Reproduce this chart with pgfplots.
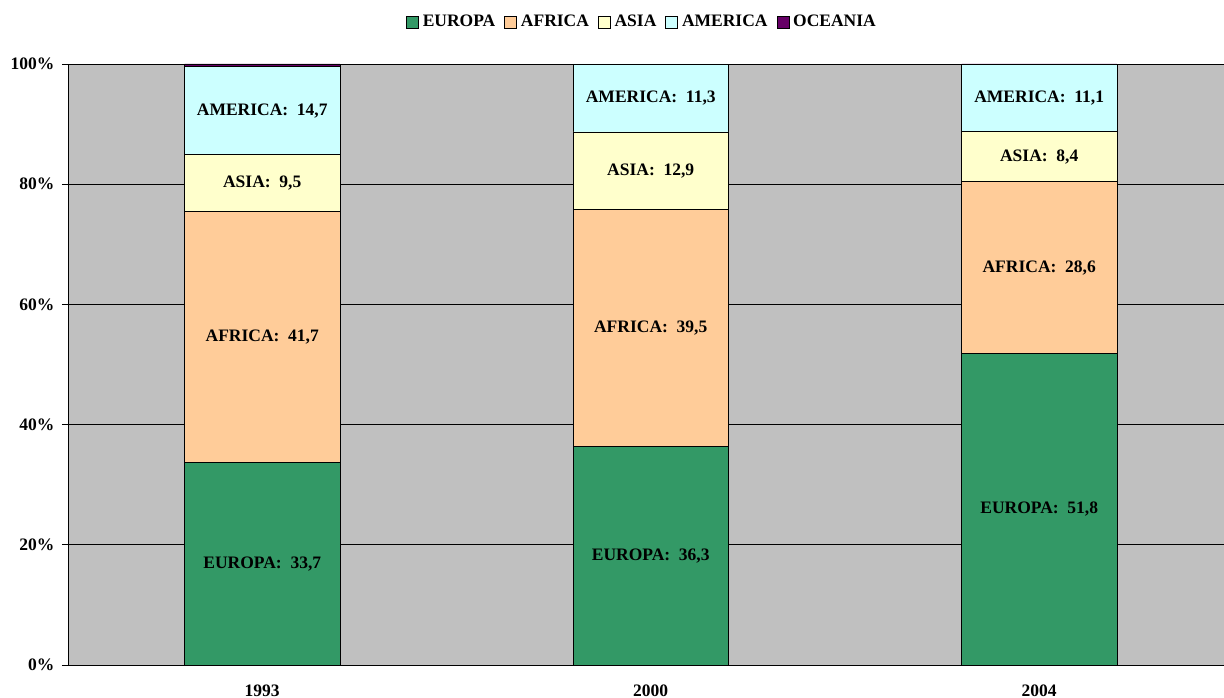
\documentclass[border=0pt]{standalone}
\usepackage{pgfplots}
\pgfplotsset{compat=1.18}
\usepackage{fontspec}
\setmainfont{Liberation Serif}
\definecolor{cEur}{HTML}{339966}
\definecolor{cAfr}{HTML}{FFCC99}
\definecolor{cAsi}{HTML}{FFFFCC}
\definecolor{cAme}{HTML}{CCFFFF}
\definecolor{cOce}{HTML}{660066}
\definecolor{cBg}{HTML}{C0C0C0}
\newcommand{\ff}{\fontsize{17.5}{20}\selectfont\bfseries}
\begin{document}
\begin{tikzpicture}[font=\ff]
\begin{axis}[
  name=main,
  scale only axis,
  width=1165.5pt, height=601pt,
  xmin=-0.5, xmax=2.5, ymin=0, ymax=100,
  ybar stacked, bar width=0.4,
  axis background/.style={fill=cBg},
  axis x line*=bottom, axis y line*=left,
  axis line style={black, line width=0.8pt},
  xtick={0,1,2}, xticklabels={1993,2000,2004},
  xtick style={draw=none},
  minor xtick={-0.5,0.5,1.5,2.5},
  minor tick length=6pt,
  major tick length=6pt,
  tick align=outside,
  ytick={0,20,40,60,80,100},
  yticklabels={0\%,20\%,40\%,60\%,80\%,100\%},
  ymajorgrids, major grid style={black, line width=0.6pt},
  tick style={black, line width=0.8pt},
  xticklabel style={font=\ff, yshift=-10pt},
  yticklabel style={font=\ff, xshift=-4pt},
  legend style={at={(0.4925,1.07)}, anchor=center, draw=none, fill=none,
    font=\ff, legend columns=-1,
    /tikz/every odd column/.append style={column sep=2pt},
    /tikz/every even column/.append style={column sep=7pt}},
  legend image code/.code={\draw[#1, draw=black, line width=0.6pt] (0pt,-6pt) rectangle (12pt,6pt);},
  every axis plot/.append style={draw=black, line width=0.8pt},
]
\addplot[fill=cEur] coordinates {(0,33.7) (1,36.3) (2,51.8)};
\addplot[fill=cAfr] coordinates {(0,41.7) (1,39.5) (2,28.6)};
\addplot[fill=cAsi] coordinates {(0,9.5) (1,12.9) (2,8.4)};
\addplot[fill=cAme] coordinates {(0,14.7) (1,11.3) (2,11.1)};
\addplot[fill=cOce] coordinates {(0,0.4) (1,0.0) (2,0.1)};
\legend{EUROPA,AFRICA,ASIA,AMERICA,OCEANIA}
\end{axis}
\begin{axis}[
  scale only axis,
  width=1165.5pt, height=601pt,
  xmin=-0.5, xmax=2.5, ymin=0, ymax=100,
  hide axis,
]
\addplot[draw=none, mark=none, nodes near coords, point meta=explicit symbolic,
  nodes near coords style={anchor=center, font=\ff, text=black}]
  coordinates {
  (0,16.85) [EUROPA:\ \ 33,7]
  (0,54.55) [AFRICA:\ \ 41,7]
  (0,80.15) [ASIA:\ \ 9,5]
  (0,92.25) [AMERICA:\ \ 14,7]
  (1,18.15) [EUROPA:\ \ 36,3]
  (1,56.05) [AFRICA:\ \ 39,5]
  (1,82.25) [ASIA:\ \ 12,9]
  (1,94.35) [AMERICA:\ \ 11,3]
  (2,25.9) [EUROPA:\ \ 51,8]
  (2,66.1) [AFRICA:\ \ 28,6]
  (2,84.6) [ASIA:\ \ 8,4]
  (2,94.35) [AMERICA:\ \ 11,1]
  };
\end{axis}
\pgfresetboundingbox
\path[use as bounding box] ([shift={(-68pt,-33pt)}]main.south west) rectangle ([shift={(1156pt,64pt)}]main.north west);
\end{tikzpicture}
\end{document}
